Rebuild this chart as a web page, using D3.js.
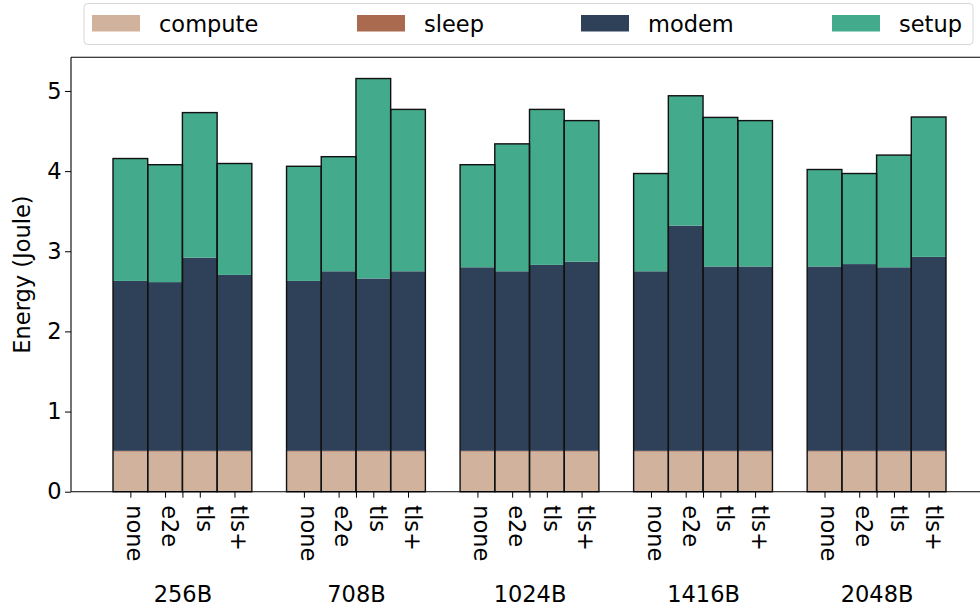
<!DOCTYPE html>
<html><head><meta charset="utf-8">
<script src="https://cdn.jsdelivr.net/npm/d3@7"></script>
<style>
html,body{margin:0;padding:0;background:#fff;overflow:hidden;}
svg{display:block;font-family:"DejaVu Sans",sans-serif;}
</style></head>
<body>
<svg id="chart" width="980" height="614"></svg>
<script>
const groups = ["256B", "708B", "1024B", "1416B", "2048B"];
const variants = ["none", "e2e", "tls", "tls+"];
const seriesNames = ["compute", "sleep", "modem", "setup"];
const seriesColors = ["#d1b29d", "#a96a50", "#2f4159", "#43aa8b"];
// values per bar, ordered group by group (none, e2e, tls, tls+)
const compute = [0.50,0.50,0.50,0.50, 0.50,0.50,0.50,0.50, 0.50,0.50,0.50,0.50, 0.50,0.50,0.50,0.50, 0.50,0.50,0.50,0.50];
const sleep   = [0.01,0.01,0.01,0.01, 0.01,0.01,0.01,0.01, 0.01,0.01,0.01,0.01, 0.01,0.01,0.01,0.01, 0.01,0.01,0.01,0.01];
const modem   = [2.12,2.105,2.41,2.195, 2.12,2.24,2.15,2.24, 2.29,2.24,2.32,2.36, 2.24,2.81,2.30,2.30, 2.30,2.33,2.29,2.42];
const setup   = [1.527,1.465,1.81,1.39, 1.43,1.43,2.495,2.02, 1.28,1.59,1.94,1.76, 1.22,1.62,1.86,1.82, 1.21,1.13,1.40,1.745];
const yTicks = [0, 1, 2, 3, 4, 5];
const yLabel = "Energy (Joule)";

const svg = d3.select("#chart");
const FS = 22.5;
const plot = {left: 71, right: 988, top: 57.3, bottom: 491.7};

const bars = [];
groups.forEach((g, gi) => variants.forEach((v, vi) => {
  const k = gi * 4 + vi;
  bars.push({group: g, variant: v, pos: gi * 5 + vi,
    vals: [compute[k], sleep[k], modem[k], setup[k]]});
}));

const x = d3.scaleLinear().domain([-1.71, 24.71]).range([plot.left, plot.right]);
const y = d3.scaleLinear().domain([0, 5.42]).range([plot.bottom, plot.top]);
const bw = x(1) - x(0);

const gBars = svg.append("g");
bars.forEach(b => {
  let base = 0;
  b.vals.forEach((v, si) => {
    gBars.append("rect")
      .attr("x", x(b.pos) - bw / 2).attr("width", bw)
      .attr("y", y(base + v)).attr("height", y(base) - y(base + v))
      .attr("fill", seriesColors[si]);
    base += v;
  });
  b.total = base;
});
// outlines
bars.forEach(b => {
  gBars.append("rect")
    .attr("x", x(b.pos) - bw / 2).attr("width", bw)
    .attr("y", y(b.total)).attr("height", y(0) - y(b.total))
    .attr("fill", "none").attr("stroke", "#111").attr("stroke-width", 1.4);
});

// spines (right spine falls outside the 980px window)
const sp = svg.append("g").attr("stroke", "#000").attr("stroke-width", 1.1).attr("fill", "none");
sp.append("line").attr("x1", plot.left).attr("x2", plot.left).attr("y1", plot.top).attr("y2", plot.bottom);
sp.append("line").attr("x1", plot.left).attr("x2", plot.right).attr("y1", plot.bottom).attr("y2", plot.bottom);
sp.append("line").attr("x1", plot.left).attr("x2", plot.right).attr("y1", plot.top).attr("y2", plot.top);

// y axis
const yAxis = svg.append("g").attr("transform", `translate(${plot.left},0)`)
  .call(d3.axisLeft(y).tickValues(yTicks).tickFormat(d3.format("d")).tickSize(6).tickPadding(3.5));
yAxis.select(".domain").remove();
yAxis.selectAll("text").attr("font-size", FS).attr("fill", "#000").attr("font-family", "DejaVu Sans");
yAxis.selectAll("line").attr("stroke", "#000");

svg.append("text")
  .attr("transform", `translate(30,${(plot.top + plot.bottom) / 2}) rotate(-90)`)
  .attr("text-anchor", "middle").attr("font-size", FS).text(yLabel);

// x axis: variant ticks
const xAxis = svg.append("g").attr("transform", `translate(0,${plot.bottom})`)
  .call(d3.axisBottom(x).tickValues(bars.map(b => b.pos)).tickFormat((d, i) => bars[i].variant).tickSize(6).tickPadding(0));
xAxis.select(".domain").remove();
xAxis.selectAll("line").attr("stroke", "#000");
xAxis.selectAll("text")
  .attr("font-size", FS).attr("fill", "#000").attr("font-family", "DejaVu Sans")
  .attr("text-anchor", "start").attr("dy", "0.16em").attr("y", 0)
  .attr("transform", "translate(0,13.5) rotate(90)");

// group ticks and labels
const groupPos = groups.map((g, gi) => gi * 5 + 1.5);
const xAxis2 = svg.append("g").attr("transform", `translate(0,${plot.bottom})`)
  .call(d3.axisBottom(x).tickValues(groupPos).tickFormat((d, i) => groups[i]).tickSize(6).tickPadding(0));
xAxis2.select(".domain").remove();
xAxis2.selectAll("line").attr("stroke", "#000");
xAxis2.selectAll("text").attr("font-size", FS).attr("fill", "#000").attr("font-family", "DejaVu Sans")
  .attr("dy", null).attr("y", 110);

// legend
const lg = svg.append("g");
lg.append("rect").attr("x", 84).attr("y", 3.5).attr("width", 889).attr("height", 41)
  .attr("rx", 4).attr("fill", "#fff").attr("fill-opacity", 0.8).attr("stroke", "#d6d6d6").attr("stroke-width", 1);
const legX = [92, 357, 581, 832];
seriesNames.forEach((n, i) => {
  lg.append("rect").attr("x", legX[i]).attr("y", 15).attr("width", 48).attr("height", 16.5).attr("fill", seriesColors[i]);
  lg.append("text").attr("x", legX[i] + 67).attr("y", 23.5).attr("dominant-baseline", "central")
    .attr("font-size", FS).text(n);
});
</script>
</body></html>
